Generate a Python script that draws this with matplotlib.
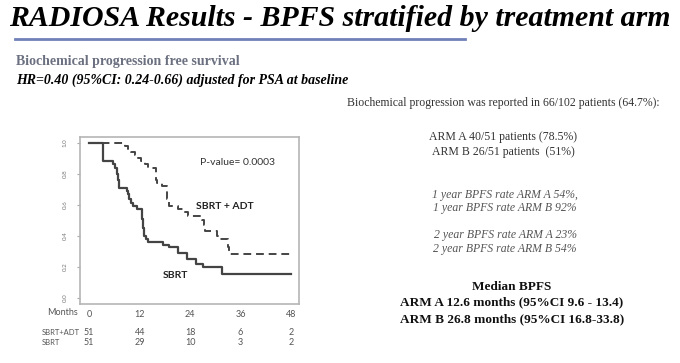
import matplotlib
matplotlib.use("Agg")
import matplotlib.pyplot as plt

# --- data ---
adt_t = [0, 8.6, 9.2, 10.0, 10.8, 11.6, 12.4, 13.2, 14.0, 15.8, 16.2, 17.2, 18.6, 19.0,
         21.2, 22.5, 23.5, 26.8, 27.2, 27.6, 30.5, 31.0, 33.0, 33.3]
adt_s = [1.0, 0.98, 0.96, 0.94, 0.92, 0.90, 0.88, 0.86, 0.84, 0.76, 0.74, 0.72, 0.64, 0.59,
         0.57, 0.55, 0.53, 0.50, 0.47, 0.43, 0.40, 0.38, 0.33, 0.28]
sbrt_t = [0, 3.2, 5.7, 6.1, 6.5, 6.9, 7.1, 8.9, 9.2, 9.5, 9.9, 10.3, 11.4, 12.6, 12.8, 13.0,
          13.4, 14.0, 17.6, 19.0, 21.0, 23.2, 25.4, 27.0, 31.7]
sbrt_s = [1.0, 0.88, 0.86, 0.84, 0.80, 0.76, 0.71, 0.69, 0.67, 0.64, 0.61, 0.59, 0.57, 0.51,
          0.45, 0.40, 0.38, 0.36, 0.34, 0.33, 0.29, 0.25, 0.22, 0.20, 0.155]
end_t = 48

month_ticks = [0, 12, 24, 36, 48]
risk_adt = [51, 44, 18, 6, 2]
risk_sbrt = [51, 29, 10, 3, 2]
y_ticks = [0.0, 0.2, 0.4, 0.6, 0.8, 1.0]

title = "RADIOSA Results - BPFS stratified by treatment arm"
subtitle = "Biochemical progression free survival"
hr_line = "HR=0.40 (95%CI: 0.24-0.66) adjusted for PSA at baseline"
p_value = "P-value= 0.0003"

serif = "Liberation Serif"
sans = "Lato"
line_col = "#444444"

fig = plt.figure(figsize=(6.8, 3.63), dpi=100)

# --- header ---
fig.text(0.5, 1 - 25.7 / 363, title, fontsize=21.5, fontweight="bold", style="italic",
         family=serif, va="baseline", ha="center")
fig.add_artist(plt.Line2D([15 / 680, 465 / 680], [1 - 39.3 / 363] * 2,
                          color="#7080b8", lw=2))
fig.text(16 / 680, 1 - 62 / 363, subtitle, fontsize=10, fontweight="bold",
         family=serif, color="#6b7080", va="center")
fig.text(16 / 680, 1 - 80 / 363, hr_line, fontsize=10, fontweight="bold",
         style="italic", family=serif, va="center")

# --- KM plot ---
ax = fig.add_axes([80 / 680, 1 - 304 / 363, 219 / 680, 167 / 363])
ax.step(adt_t + [end_t], adt_s + [adt_s[-1]], where="post", color=line_col,
        lw=1.4, ls=(0, (4, 2.5)))
ax.step(sbrt_t + [end_t], sbrt_s + [sbrt_s[-1]], where="post", color=line_col, lw=1.6)
ax.set_xlim(-2.2, 49.9)
ax.set_ylim(-0.041, 1.037)
ax.set_xticks(month_ticks)
ax.set_xticklabels([str(m) for m in month_ticks], family=sans, fontsize=6.5, color="#555555")
ax.set_yticks(y_ticks)
ax.set_yticklabels([f"{v:.1f}" for v in y_ticks], rotation=90, va="center",
                   family=sans, fontsize=4.5, color="#777777")
ax.tick_params(axis="x", length=0, pad=4)
ax.tick_params(axis="y", length=2, color="#aaaaaa", pad=7)
for sp in ax.spines.values():
    sp.set_color("#b5b5b5")
    sp.set_linewidth(1.2)

ax.text(35.2, 0.87, p_value, family=sans, fontsize=7.5, color="#333333", ha="center", va="center")
ax.text(32.2, 0.59, "SBRT + ADT", family=sans, fontsize=7.5, fontweight="bold",
        color="#222222", ha="center", va="center")
ax.text(20.6, 0.14, "SBRT", family=sans, fontsize=7.5, fontweight="bold",
        color="#222222", ha="center", va="center")

xt = ax.get_xaxis_transform()
ax.text(-2.7, -0.052, "Months", transform=xt, family=sans, fontsize=6.5,
        color="#555555", ha="right", va="center")
fig.text(41.7 / 680, 1 - 332.3 / 363, "SBRT+ADT", family=sans, fontsize=5.5,
         color="#555555", va="center")
fig.text(41.7 / 680, 1 - 342.3 / 363, "SBRT", family=sans, fontsize=5.5,
         color="#555555", va="center")
for m, a, s in zip(month_ticks, risk_adt, risk_sbrt):
    ax.text(m, -0.17, str(a), transform=xt, family=sans, fontsize=6.5,
            color="#555555", ha="center", va="center", clip_on=False)
    ax.text(m, -0.23, str(s), transform=xt, family=sans, fontsize=6.5,
            color="#555555", ha="center", va="center", clip_on=False)

# --- right-hand text block ---
txt_col = "#333333"
fig.text(503 / 680, 1 - 103.3 / 363,
         "Biochemical progression was reported in 66/102 patients (64.7%):",
         family=serif, fontsize=8.5, color=txt_col, ha="center", va="center")
fig.text(503 / 680, 1 - 136.7 / 363, "ARM A 40/51 patients (78.5%)",
         family=serif, fontsize=8.5, color=txt_col, ha="center", va="center")
fig.text(503 / 680, 1 - 152.3 / 363, "ARM B 26/51 patients  (51%)",
         family=serif, fontsize=8.5, color=txt_col, ha="center", va="center")
italic_lines = [("1 year BPFS rate ARM A 54%,", 195), ("1 year BPFS rate ARM B 92%", 208.3),
                ("2 year BPFS rate ARM A 23%", 235), ("2 year BPFS rate ARM B 54%", 249)]
for s, y in italic_lines:
    fig.text(505 / 680, 1 - y / 363, s, family=serif, fontsize=8.5, style="italic",
             color="#555555", ha="center", va="center")
bold_lines = [("Median BPFS", 286.7), ("ARM A 12.6 months (95%CI 9.6 - 13.4)", 302.7),
              ("ARM B 26.8 months (95%CI 16.8-33.8)", 319.3)]
for s, y in bold_lines:
    fig.text(511.7 / 680, 1 - y / 363, s, family=serif, fontsize=9.5, fontweight="bold",
             color="#111111", ha="center", va="center")

fig.savefig("out.png", dpi=100)
